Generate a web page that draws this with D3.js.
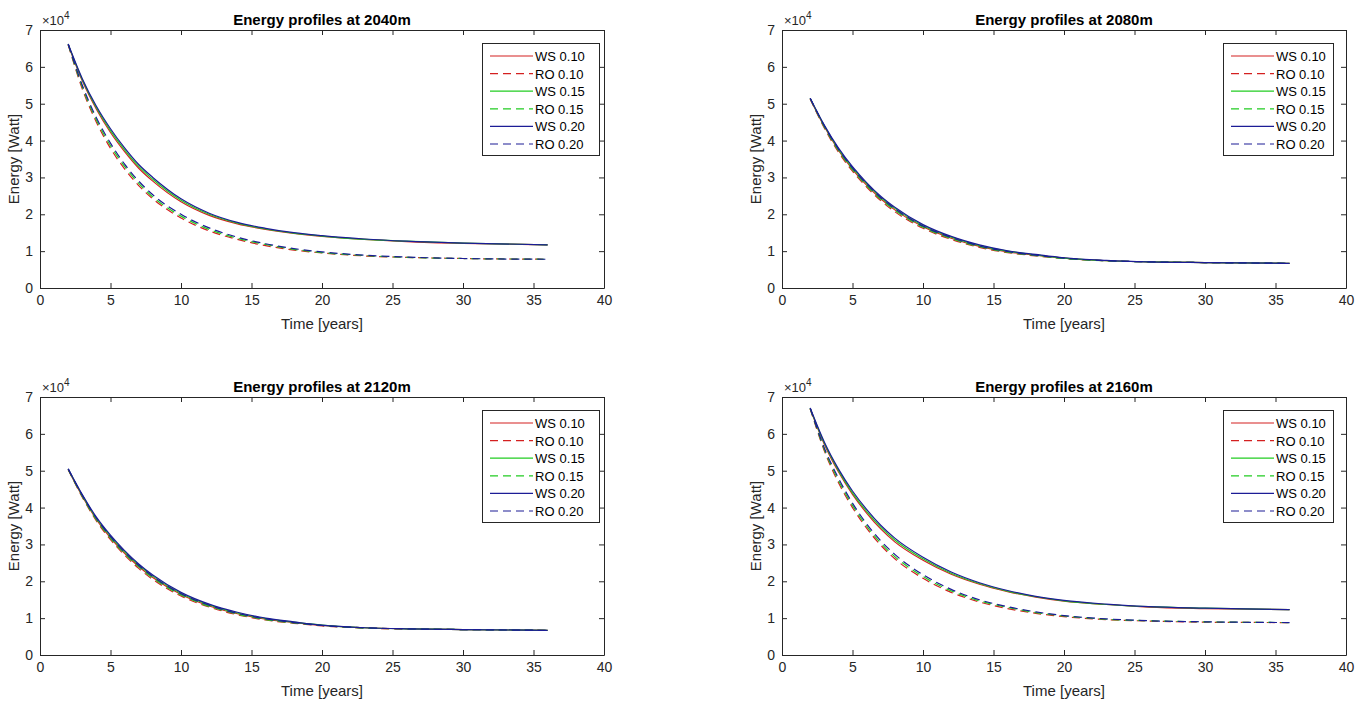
<!DOCTYPE html>
<html>
<head>
<meta charset="utf-8">
<script src="https://cdn.jsdelivr.net/npm/d3@7/dist/d3.min.js"></script>
<style>
  body { margin: 0; background: #fff; }
  svg text { font-family: "Liberation Sans", Arial, Helvetica, sans-serif; }
</style>
</head>
<body>
<div id="chart"></div>
<script>

// time axis of the simulation (years)
var timeYears = [2, 3, 4, 5, 6, 7, 8, 10, 12, 14, 16, 18, 20, 23, 26, 30, 36];

// energy values, in units of 1e4 Watt
// 2040m
var ws10_2040 = [6.60, 5.62, 4.85, 4.22, 3.70, 3.25, 2.90, 2.34, 1.97, 1.74, 1.59, 1.48, 1.40, 1.32, 1.26, 1.21, 1.17];
var ro10_2040 = [6.60, 5.40, 4.50, 3.79, 3.23, 2.78, 2.42, 1.90, 1.55, 1.32, 1.15, 1.03, 0.95, 0.87, 0.83, 0.80, 0.78];
var ws15_2040 = [6.61, 5.65, 4.89, 4.27, 3.75, 3.30, 2.95, 2.38, 2.00, 1.76, 1.60, 1.49, 1.41, 1.32, 1.27, 1.22, 1.17];
var ro15_2040 = [6.61, 5.45, 4.56, 3.86, 3.30, 2.84, 2.47, 1.95, 1.59, 1.35, 1.18, 1.05, 0.96, 0.88, 0.83, 0.80, 0.78];
var ws20_2040 = [6.62, 5.68, 4.93, 4.32, 3.80, 3.35, 3.00, 2.42, 2.03, 1.78, 1.62, 1.50, 1.42, 1.33, 1.27, 1.22, 1.17];
var ro20_2040 = [6.62, 5.50, 4.62, 3.93, 3.36, 2.90, 2.53, 2.00, 1.63, 1.38, 1.20, 1.07, 0.98, 0.89, 0.84, 0.80, 0.78];
// 2080m
var ws10_2080 = [5.13, 4.38, 3.74, 3.22, 2.79, 2.42, 2.12, 1.66, 1.35, 1.13, 0.98, 0.89, 0.81, 0.74, 0.71, 0.69, 0.67];
var ro10_2080 = [5.13, 4.34, 3.69, 3.17, 2.74, 2.37, 2.07, 1.62, 1.32, 1.10, 0.96, 0.87, 0.80, 0.74, 0.71, 0.69, 0.67];
var ws15_2080 = [5.14, 4.40, 3.77, 3.26, 2.83, 2.46, 2.16, 1.69, 1.38, 1.15, 1.00, 0.90, 0.81, 0.74, 0.71, 0.69, 0.67];
var ro15_2080 = [5.14, 4.37, 3.73, 3.21, 2.78, 2.41, 2.11, 1.65, 1.34, 1.12, 0.97, 0.88, 0.80, 0.74, 0.71, 0.69, 0.67];
var ws20_2080 = [5.15, 4.42, 3.80, 3.29, 2.86, 2.49, 2.19, 1.72, 1.40, 1.17, 1.01, 0.91, 0.82, 0.75, 0.71, 0.69, 0.67];
var ro20_2080 = [5.15, 4.40, 3.77, 3.25, 2.82, 2.45, 2.15, 1.68, 1.37, 1.14, 0.99, 0.89, 0.81, 0.74, 0.71, 0.69, 0.67];
// 2120m
var ws10_2120 = [5.03, 4.31, 3.68, 3.18, 2.76, 2.40, 2.10, 1.64, 1.33, 1.12, 0.97, 0.88, 0.80, 0.74, 0.71, 0.69, 0.67];
var ro10_2120 = [5.03, 4.28, 3.64, 3.13, 2.71, 2.35, 2.05, 1.60, 1.30, 1.09, 0.95, 0.86, 0.79, 0.73, 0.70, 0.69, 0.67];
var ws15_2120 = [5.04, 4.33, 3.71, 3.22, 2.80, 2.44, 2.14, 1.67, 1.36, 1.14, 0.99, 0.89, 0.81, 0.74, 0.71, 0.69, 0.67];
var ro15_2120 = [5.04, 4.30, 3.67, 3.17, 2.75, 2.39, 2.09, 1.63, 1.32, 1.11, 0.96, 0.87, 0.80, 0.73, 0.71, 0.69, 0.67];
var ws20_2120 = [5.05, 4.35, 3.74, 3.25, 2.83, 2.47, 2.17, 1.70, 1.38, 1.16, 1.00, 0.90, 0.81, 0.74, 0.71, 0.69, 0.67];
var ro20_2120 = [5.05, 4.33, 3.71, 3.21, 2.79, 2.43, 2.13, 1.66, 1.35, 1.13, 0.98, 0.88, 0.80, 0.74, 0.71, 0.69, 0.67];
// 2160m
var ws10_2160 = [6.68, 5.72, 4.97, 4.36, 3.85, 3.42, 3.07, 2.57, 2.19, 1.92, 1.72, 1.57, 1.46, 1.37, 1.30, 1.26, 1.23];
var ro10_2160 = [6.68, 5.54, 4.68, 4.00, 3.44, 2.98, 2.61, 2.08, 1.70, 1.44, 1.26, 1.13, 1.04, 0.96, 0.92, 0.89, 0.88];
var ws15_2160 = [6.69, 5.75, 5.01, 4.40, 3.90, 3.47, 3.12, 2.61, 2.22, 1.94, 1.73, 1.58, 1.47, 1.37, 1.31, 1.27, 1.23];
var ro15_2160 = [6.69, 5.58, 4.74, 4.06, 3.50, 3.04, 2.67, 2.13, 1.74, 1.47, 1.29, 1.15, 1.06, 0.97, 0.93, 0.90, 0.88];
var ws20_2160 = [6.70, 5.78, 5.05, 4.45, 3.95, 3.52, 3.17, 2.65, 2.25, 1.96, 1.75, 1.59, 1.48, 1.38, 1.31, 1.27, 1.23];
var ro20_2160 = [6.70, 5.62, 4.80, 4.12, 3.56, 3.10, 2.73, 2.18, 1.78, 1.50, 1.31, 1.17, 1.07, 0.98, 0.93, 0.90, 0.88];

var depthLabels = ["2040m", "2080m", "2120m", "2160m"];
var seriesNames = ["WS 0.10", "RO 0.10", "WS 0.15", "RO 0.15", "WS 0.20", "RO 0.20"];
var xTicks = [0, 5, 10, 15, 20, 25, 30, 35, 40];
var yTicks = [0, 1, 2, 3, 4, 5, 6, 7];

var panelSeries = [
    [ws10_2040, ro10_2040, ws15_2040, ro15_2040, ws20_2040, ro20_2040],
    [ws10_2080, ro10_2080, ws15_2080, ro15_2080, ws20_2080, ro20_2080],
    [ws10_2120, ro10_2120, ws15_2120, ro15_2120, ws20_2120, ro20_2120],
    [ws10_2160, ro10_2160, ws15_2160, ro15_2160, ws20_2160, ro20_2160]
];

// styling per series (colour, dashed?)
var lineColors = ["#d42020", "#d42020", "#22cc22", "#22cc22", "#1c1c96", "#1c1c96"];
var lineDashed = [false, true, false, true, false, true];

var W = 1369, H = 702;
var axisColor = "#262626";

// axes boxes: left, top ; legend box left/right
var panels = [
    {left: 40,  top: 30,  legL: 482,  legR: 599},
    {left: 782, top: 30,  legL: 1223, legR: 1333},
    {left: 40,  top: 397, legL: 482,  legR: 599},
    {left: 782, top: 397, legL: 1223, legR: 1333}
];
var pw = 564, ph = 258;

var svg = d3.select("#chart").append("svg")
    .attr("width", W).attr("height", H)
    .style("background", "#fff");

panels.forEach(function(p, i) {
    var g = svg.append("g").attr("transform", "translate(" + p.left + "," + p.top + ")");

    var x = d3.scaleLinear().domain([0, 40]).range([0, pw]);
    var y = d3.scaleLinear().domain([0, 70000]).range([ph, 0]);

    // box axes, ticks pointing inward
    var xAxis = d3.axisBottom(x).tickValues(xTicks).tickSizeInner(-5).tickSizeOuter(0).tickPadding(7);
    var yAxis = d3.axisLeft(y).tickValues(yTicks.map(function(v){ return v * 1e4; }))
        .tickFormat(function(d){ return d / 1e4; }).tickSizeInner(-5).tickSizeOuter(0).tickPadding(7);
    var xTop = d3.axisTop(x).tickValues(xTicks).tickSizeInner(-5).tickSizeOuter(0).tickFormat("");
    var yRight = d3.axisRight(y).tickValues(yTicks.map(function(v){ return v * 1e4; }))
        .tickSizeInner(-5).tickSizeOuter(0).tickFormat("");

    var axes = [
        g.append("g").attr("transform", "translate(0," + ph + ")").call(xAxis),
        g.append("g").call(yAxis),
        g.append("g").call(xTop),
        g.append("g").attr("transform", "translate(" + pw + ",0)").call(yRight)
    ];
    axes.forEach(function(a) {
        a.select(".domain").attr("stroke", axisColor).attr("stroke-width", 1);
        a.selectAll(".tick line").attr("stroke", axisColor);
        a.selectAll(".tick text").attr("fill", axisColor).style("font-size", "14px")
            .style("font-family", "'Liberation Sans', Arial, sans-serif");
    });

    // curves
    var line = d3.line()
        .curve(d3.curveMonotoneX)
        .x(function(d) { return x(d.t); })
        .y(function(d) { return y(d.v * 1e4); });

    panelSeries[i].forEach(function(vals, k) {
        var pts = timeYears.map(function(t, j) { return {t: t, v: vals[j]}; });
        g.append("path")
            .datum(pts)
            .attr("fill", "none")
            .attr("stroke", lineColors[k])
            .attr("stroke-width", 1.2)
            .attr("stroke-dasharray", lineDashed[k] ? "8,5" : null)
            .attr("d", line);
    });

    // exponent marker
    var ex = g.append("text").attr("x", 2).attr("y", -5)
        .attr("fill", axisColor).style("font-size", "13px");
    ex.append("tspan").text("\u00d710");
    ex.append("tspan").attr("dy", -6).style("font-size", "10px").text("4");

    // title
    g.append("text")
        .attr("x", pw / 2).attr("y", -5)
        .attr("text-anchor", "middle")
        .style("font-size", "15px").style("font-weight", "bold")
        .attr("fill", "#000")
        .text("Energy profiles at " + depthLabels[i]);

    // axis labels
    g.append("text")
        .attr("x", pw / 2).attr("y", ph + 41)
        .attr("text-anchor", "middle")
        .style("font-size", "15px").attr("fill", axisColor)
        .text("Time [years]");
    g.append("text")
        .attr("transform", "translate(-21," + (ph / 2) + ") rotate(-90)")
        .attr("text-anchor", "middle")
        .style("font-size", "15px").attr("fill", axisColor)
        .text("Energy [Watt]");

    // legend
    var lg = svg.append("g");
    var lTop = p.top + 13, rowH = 17.6;
    lg.append("rect")
        .attr("x", p.legL + 0.5).attr("y", lTop + 0.5)
        .attr("width", p.legR - p.legL).attr("height", 112)
        .attr("fill", "#fff").attr("stroke", axisColor).attr("stroke-width", 1);
    seriesNames.forEach(function(name, k) {
        var cy = lTop + 13 + k * rowH;
        lg.append("line")
            .attr("x1", p.legL + 8).attr("x2", p.legL + 51)
            .attr("y1", cy).attr("y2", cy)
            .attr("stroke", lineColors[k]).attr("stroke-width", 1.2)
            .attr("stroke-dasharray", lineDashed[k] ? "8,5" : null);
        lg.append("text")
            .attr("x", p.legL + 53).attr("y", cy + 5)
            .style("font-size", "13px").attr("fill", "#000")
            .text(name);
    });
});

</script>
</body>
</html>
